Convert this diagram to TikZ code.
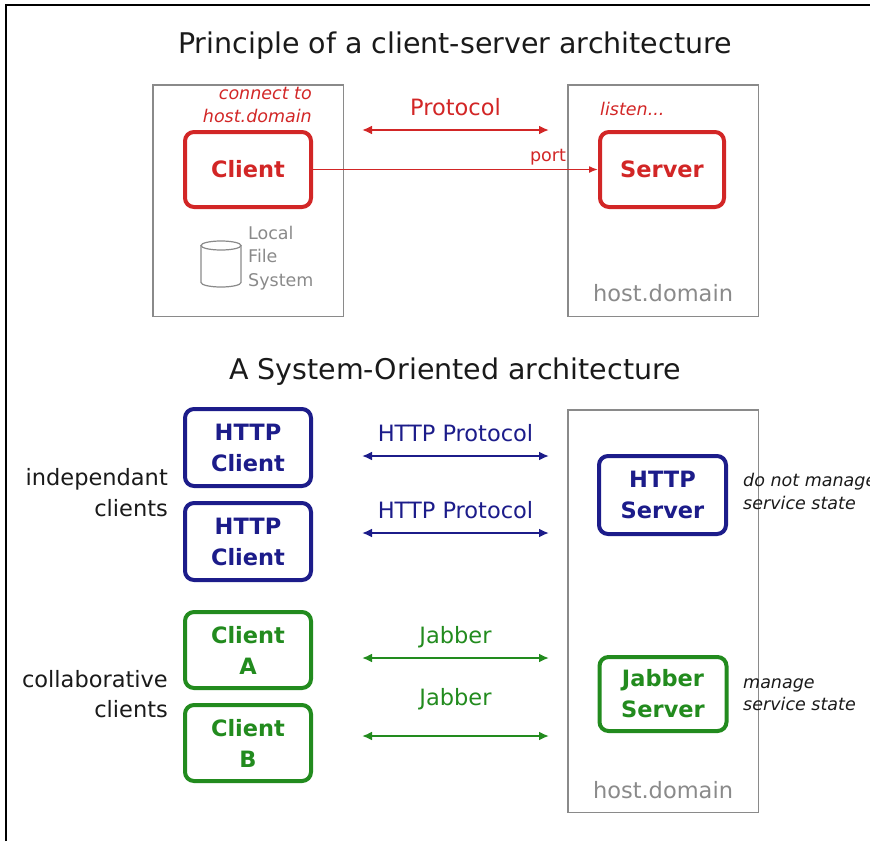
\documentclass[tikz,border=0pt]{standalone}
\usepackage{fontspec}
\setmainfont{DejaVu Sans}
\usetikzlibrary{positioning,arrows.meta}
\definecolor{protored}{HTML}{D22626}
\definecolor{httpblue}{HTML}{1C1C8A}
\definecolor{jabgreen}{HTML}{228B1E}
\definecolor{hostgray}{HTML}{8A8A8A}
\definecolor{inkblack}{HTML}{1A1A1A}
\tikzset{
	heading/.style={text=inkblack, inner sep=0pt, font=\fontsize{28.5}{34}\selectfont},
	proc/.style={draw, line width=4pt, rounded corners=9pt, minimum width=126pt, minimum height=76pt, align=center, font=\bfseries\fontsize{22.5}{31}\selectfont},
	hostbox/.style={draw=hostgray, line width=1.5pt, minimum width=190.5pt},
	remark/.style={inner sep=0pt, font=\itshape\fontsize{17.5}{22.5}\selectfont},
	wirelbl/.style={midway, anchor=base, inner sep=0pt, font=\fontsize{22.5}{27}\selectfont},
	group/.style={text=inkblack, inner sep=0pt, align=right, font=\fontsize{22.5}{31}\selectfont},
	wire/.style={line width=2pt, {Latex[length=10pt,width=9pt]}-{Latex[length=10pt,width=9pt]}},
}
\begin{document}
\begin{tikzpicture}[x=1pt, y=-1pt]
	\useasboundingbox (0,0) rectangle (870,841);
	\draw [line width=1.5pt] (6,841) -- (6,5) -- (870,5);

	\node [heading] (head1) at (455,45.6) {Principle of a client-server architecture};
	\node [hostbox, minimum height=231.5pt] (local) at (248,200.5) {};
	\node [hostbox, minimum height=231.5pt] (remote) at (663,200.5) {};
	\node [proc, protored, minimum height=75pt] (client) at (248,169.5) {Client};
	\node [proc, protored, minimum height=75pt, minimum width=124pt] (server) at (662,169.5) {Server};
	\node [remark, protored, align=right, anchor=east] (connect) at (312,105) {connect to\\host.domain};
	\node [remark, protored, anchor=base west] (listen) at (600,115) {listen...};
	\node [inner sep=0pt, hostgray, align=left, anchor=west, font=\fontsize{17.5}{23.5}\selectfont] (lfs) at (248,258) {Local\\File\\System};
	\draw [hostgray, line width=1.2pt] (221,245.5) ellipse [x radius=20, y radius=4.5];
	\draw [hostgray, line width=1.2pt] (201,245.5) -- (201,282.5) arc [start angle=180, end angle=0, x radius=20, y radius=4.5] -- (241,245.5);
	\node [hostgray, inner sep=0pt, font=\fontsize{22.5}{27}\selectfont] (dom1) at (663,293) {host.domain};
	\coordinate (p1) at (362,130);
	\coordinate (p2) at (549,130);
	\draw [protored, wire] (p1) -- node[wirelbl, yshift=15pt]{Protocol} (p2);
	\draw [protored, line width=1.5pt, -{Latex[length=9pt,width=7pt]}] (client) -- node[pos=0.89, anchor=base east, inner sep=0pt, yshift=8pt, font=\fontsize{17.5}{21}\selectfont]{port} (server);

	\node [heading] (head2) at (455,371.6) {A System-Oriented architecture};
	\node [hostbox, minimum height=402.5pt] (remote2) at (663,611) {};
	\node [proc, httpblue, minimum height=77pt] (hclient1) at (248,447.5) {HTTP\\Client};
	\node [proc, httpblue, minimum height=77pt] (hclient2) at (248,541.5) {HTTP\\Client};
	\node [proc, httpblue, minimum height=78pt, minimum width=127pt] (hserver) at (662.5,495) {HTTP\\Server};
	\node [proc, jabgreen] (jclienta) at (248,650) {Client\\A};
	\node [proc, jabgreen] (jclientb) at (248,743) {Client\\B};
	\node [proc, jabgreen, minimum height=74pt, minimum width=127pt] (jserver) at (663,694) {Jabber\\Server};
	\node [group, anchor=east] (indep) at (168,492.5) {independant\\clients};
	\node [group, anchor=east, font=\fontsize{22.5}{30}\selectfont] (collab) at (168,694.5) {collaborative\\clients};
	\node [remark, inkblack, align=left, anchor=west, font=\itshape\fontsize{17.5}{23}\selectfont] (nostate) at (743,491.5) {do not manage\\service state};
	\node [remark, inkblack, align=left, anchor=west, font=\itshape\fontsize{17.5}{22}\selectfont] (state) at (743,695) {manage\\service state};
	\node [hostgray, inner sep=0pt, font=\fontsize{22.5}{27}\selectfont] (dom2) at (663,790) {host.domain};
	\coordinate (h1a) at (362,456);
	\coordinate (h1b) at (549,456);
	\coordinate (h2a) at (362,533);
	\coordinate (h2b) at (549,533);
	\coordinate (j1a) at (362,658);
	\coordinate (j1b) at (549,658);
	\coordinate (j2a) at (362,736);
	\coordinate (j2b) at (549,736);
	\draw [httpblue, wire] (h1a) -- node[wirelbl, yshift=15pt]{HTTP Protocol} (h1b);
	\draw [httpblue, wire] (h2a) -- node[wirelbl, yshift=15pt]{HTTP Protocol} (h2b);
	\draw [jabgreen, wire] (j1a) -- node[wirelbl, yshift=15pt]{Jabber} (j1b);
	\draw [jabgreen, wire] (j2a) -- node[wirelbl, yshift=31pt]{Jabber} (j2b);
\end{tikzpicture}
\end{document}
